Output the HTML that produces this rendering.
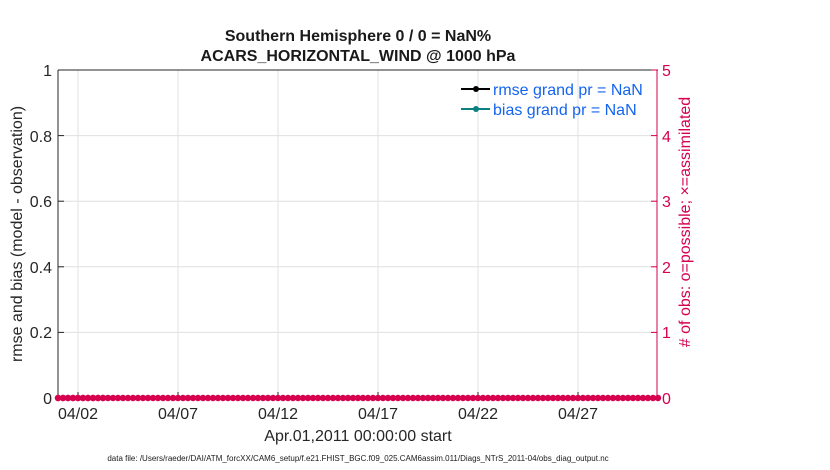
<!DOCTYPE html>
<html><head><style>body{margin:0;background:#fff}svg{display:block}text{font-family:"Liberation Sans",sans-serif}</style></head><body>
<svg width="830" height="470" viewBox="0 0 830 470" xmlns="http://www.w3.org/2000/svg">
<defs><circle id="c" r="3.2" fill="#d6004f"/></defs>
<rect width="830" height="470" fill="#fff"/>
<g stroke="#e0e0e0" stroke-width="1">
<line x1="78" y1="70" x2="78" y2="398"/><line x1="178" y1="70" x2="178" y2="398"/><line x1="278" y1="70" x2="278" y2="398"/><line x1="378" y1="70" x2="378" y2="398"/><line x1="478" y1="70" x2="478" y2="398"/><line x1="578" y1="70" x2="578" y2="398"/>
<line x1="58" y1="332.4" x2="658" y2="332.4"/><line x1="58" y1="266.8" x2="658" y2="266.8"/><line x1="58" y1="201.2" x2="658" y2="201.2"/><line x1="58" y1="135.6" x2="658" y2="135.6"/>
</g>
<line x1="58" y1="70" x2="658" y2="70" stroke="#262626"/>
<line x1="58" y1="70" x2="58" y2="398" stroke="#262626"/>
<line x1="657" y1="70" x2="657" y2="398" stroke="#d6004f"/>
<g stroke="#262626"><line x1="78" y1="398" x2="78" y2="392"/><line x1="178" y1="398" x2="178" y2="392"/><line x1="278" y1="398" x2="278" y2="392"/><line x1="378" y1="398" x2="378" y2="392"/><line x1="478" y1="398" x2="478" y2="392"/><line x1="578" y1="398" x2="578" y2="392"/>
<line x1="58" y1="332.4" x2="64" y2="332.4"/><line x1="58" y1="266.8" x2="64" y2="266.8"/><line x1="58" y1="201.2" x2="64" y2="201.2"/><line x1="58" y1="135.6" x2="64" y2="135.6"/></g>
<g stroke="#d6004f"><line x1="651" y1="332.4" x2="657" y2="332.4"/><line x1="651" y1="266.8" x2="657" y2="266.8"/><line x1="651" y1="201.2" x2="657" y2="201.2"/><line x1="651" y1="135.6" x2="657" y2="135.6"/><line x1="651" y1="70" x2="657" y2="70"/></g>
<line x1="58" y1="398" x2="658" y2="398" stroke="#d6004f" stroke-width="4"/>
<g id="r10"><use href="#c" x="58" y="398"/><use href="#c" x="63" y="398"/><use href="#c" x="68" y="398"/><use href="#c" x="73" y="398"/><use href="#c" x="78" y="398"/><use href="#c" x="83" y="398"/><use href="#c" x="88" y="398"/><use href="#c" x="93" y="398"/><use href="#c" x="98" y="398"/><use href="#c" x="103" y="398"/></g>
<g id="r50"><use href="#r10"/><use href="#r10" x="50"/><use href="#r10" x="100"/><use href="#r10" x="150"/><use href="#r10" x="200"/></g>
<use href="#r50" x="250"/>
<use href="#r10" x="500"/><use href="#r10" x="550"/>
<use href="#c" x="658" y="398"/>
<g font-size="16" fill="#262626" text-anchor="middle">
<text x="78" y="419">04/02</text><text x="178" y="419">04/07</text><text x="278" y="419">04/12</text><text x="378" y="419">04/17</text><text x="478" y="419">04/22</text><text x="578" y="419">04/27</text>
<text x="358" y="441">Apr.01,2011 00:00:00 start</text>
</g>
<g font-size="16" fill="#262626" text-anchor="end">
<text x="52" y="404">0</text><text x="52" y="338">0.2</text><text x="52" y="273">0.4</text><text x="52" y="207">0.6</text><text x="52" y="142">0.8</text><text x="52" y="76">1</text>
</g>
<g font-size="16" fill="#d6004f">
<text x="662" y="404">0</text><text x="662" y="338">1</text><text x="662" y="273">2</text><text x="662" y="207">3</text><text x="662" y="142">4</text><text x="662" y="76">5</text>
</g>
<text transform="translate(22,234) rotate(-90)" font-size="16" fill="#262626" text-anchor="middle">rmse and bias (model - observation)</text>
<text transform="translate(690,222) rotate(-90)" font-size="16" fill="#d6004f" text-anchor="middle"># of obs: o=possible; ×=assimilated</text>
<g font-size="16" font-weight="bold" fill="#1a1a1a" text-anchor="middle">
<text x="358" y="41">Southern Hemisphere 0 / 0 = NaN%</text>
<text x="358" y="61">ACARS_HORIZONTAL_WIND @ 1000 hPa</text>
</g>
<line x1="461" y1="89" x2="490" y2="89" stroke="#000" stroke-width="2"/><circle cx="476" cy="89" r="3" fill="#000"/>
<line x1="461" y1="109" x2="490" y2="109" stroke="#0a8080" stroke-width="2"/><circle cx="476" cy="109" r="3" fill="#0a8080"/>
<g font-size="16" fill="#1464f0"><text x="493" y="95">rmse grand pr = NaN</text><text x="493" y="115">bias grand pr = NaN</text></g>
<text x="358" y="461" font-size="8" fill="#1a1a1a" text-anchor="middle">data file: /Users/raeder/DAI/ATM_forcXX/CAM6_setup/f.e21.FHIST_BGC.f09_025.CAM6assim.011/Diags_NTrS_2011-04/obs_diag_output.nc</text>
</svg>
</body></html>
